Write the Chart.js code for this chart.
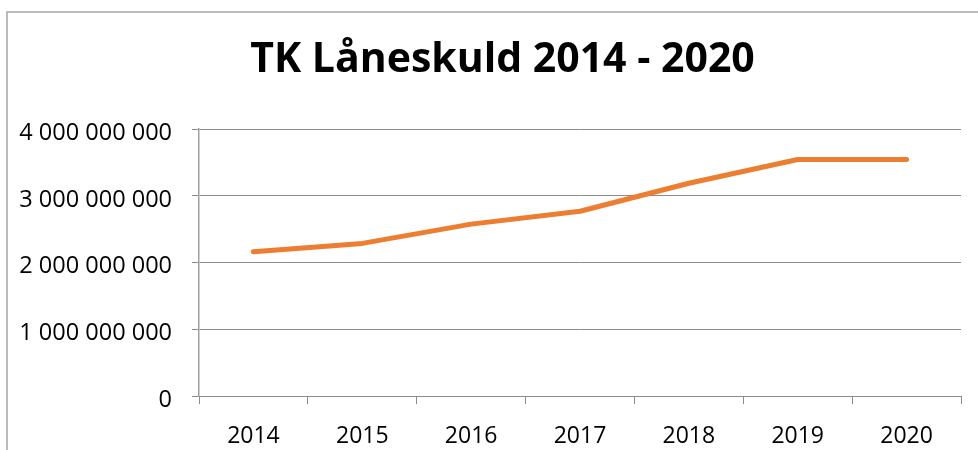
<!DOCTYPE html>
<html>
<head>
<meta charset="utf-8">
<script src="https://cdn.jsdelivr.net/npm/chart.js@4/dist/chart.umd.min.js"></script>
<style>
html,body{margin:0;padding:0;background:#fff;}
#wrap{position:relative;width:978px;height:450px;}
</style>
</head>
<body>
<div id="wrap"><canvas id="c" width="978" height="450"></canvas></div>
<script>
const chartTitle = "TK Låneskuld 2014 - 2020";
const categories = ["2014", "2015", "2016", "2017", "2018", "2019", "2020"];
const debtValues = [2162000000, 2288000000, 2577000000, 2770000000, 3190000000, 3546000000, 3546000000];
const yTickValues = [0, 1000000000, 2000000000, 3000000000, 4000000000];

function fmtSpaces(v) {
  return String(Math.round(v)).replace(/\B(?=(\d{3})+(?!\d))/g, " ");
}

const frame = {
  id: 'frame',
  afterLayout(chart) {
    // let y tick labels extend into the left padding without clipping
    chart.scales.y.left = 0;
  },
  afterDraw(chart) {
    const ctx = chart.ctx;
    ctx.save();
    ctx.strokeStyle = '#a6a6a6';
    ctx.lineWidth = 1.5;
    ctx.beginPath();
    ctx.moveTo(7, 450);
    ctx.lineTo(7, 12);
    ctx.lineTo(978, 12);
    ctx.stroke();
    ctx.restore();
  }
};

new Chart(document.getElementById('c'), {
  type: 'line',
  data: {
    labels: categories,
    datasets: [{
      data: debtValues,
      borderColor: '#ED7D31',
      borderWidth: 5,
      borderCapStyle: 'round',
      borderJoinStyle: 'round',
      pointRadius: 0,
      tension: 0,
      fill: false
    }]
  },
  options: {
    responsive: false,
    animation: false,
    layout: { padding: { left: 44, right: 17, top: 0, bottom: 0 } },
    plugins: {
      legend: { display: false },
      tooltip: { enabled: false },
      title: {
        display: true,
        text: chartTitle,
        color: '#000',
        font: { family: 'Open Sans', size: 41, weight: 'bold', lineHeight: 1.2 },
        padding: { top: 36, bottom: 44 }
      }
    },
    scales: {
      x: {
        type: 'category',
        offset: true,
        afterFit(s) { s.height = 54; },
        grid: { offset: true, drawOnChartArea: false, drawTicks: true, tickLength: 8, color: '#8c8c8c', lineWidth: 1 },
        border: { display: true, color: '#8c8c8c', width: 1 },
        ticks: { color: '#000', font: { family: 'Open Sans', size: 23 }, padding: 19, maxRotation: 0 }
      },
      y: {
        min: 0,
        max: 4000000000,
        afterFit(s) { s.width = 155; },
        afterBuildTicks(s) { s.ticks = yTickValues.map(v => ({ value: v })); },
        grid: { color: '#8c8c8c', lineWidth: 1, drawTicks: true, tickLength: 7 },
        border: { display: true, color: '#a0a0a0', width: 1.5 },
        ticks: {
          color: '#000',
          font: { family: 'Open Sans', size: 23.5 },
          padding: 20,
          labelOffset: 4,
          callback: v => fmtSpaces(v)
        }
      }
    }
  },
  plugins: [frame]
});
</script>
</body>
</html>
